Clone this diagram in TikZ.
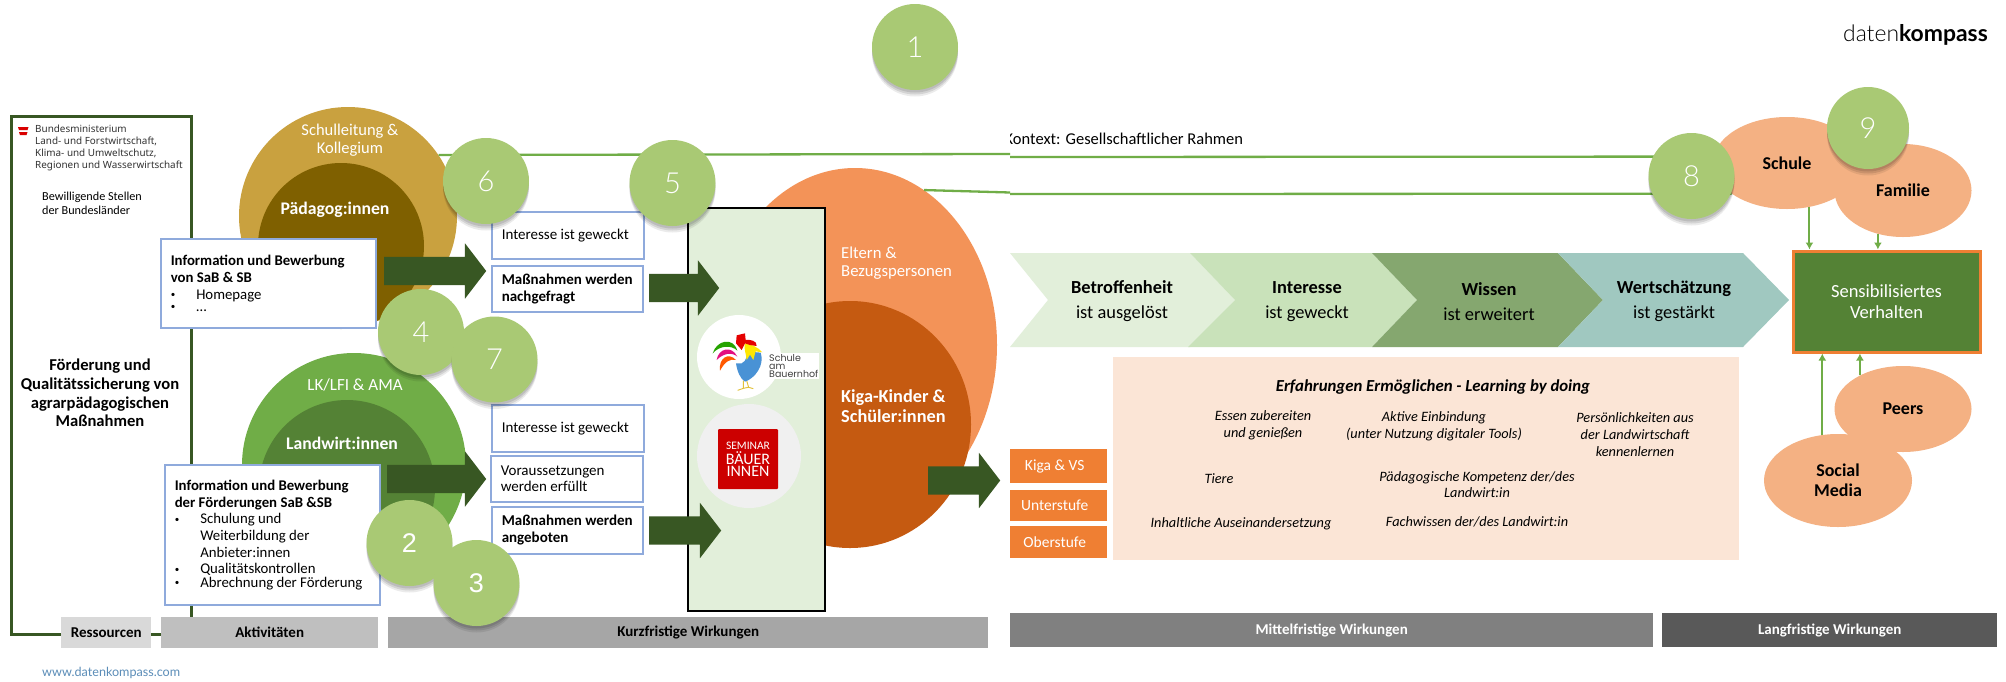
\documentclass[tikz,border=0pt]{standalone}
\usepackage{fontspec}
\setmainfont{Carlito}
\newfontfamily\logofont{Lato}
\newfontfamily\lightfont{Lato Light}
\newfontfamily\smallsans{Noto Sans}
\newfontfamily\popfont{Poppins}
\newfontfamily\arialfont{Liberation Sans}
\usetikzlibrary{shapes.geometric,shapes.arrows,shadows,arrows.meta}
\newcommand\fs[2]{\fontsize{#1}{#2}\selectfont}
\newcommand\bul[1]{\makebox[25.5pt][l]{\raisebox{1.5pt}{\fontsize{9}{9}\selectfont\textbullet}}#1}
\newcommand\cont[1]{\hspace*{25.5pt}#1}
\definecolor{frameG}{HTML}{385723}
\definecolor{goldL}{HTML}{C9A13F}
\definecolor{goldD}{HTML}{7F6000}
\definecolor{greenL}{HTML}{70AD47}
\definecolor{greenD}{HTML}{548235}
\definecolor{blueB}{HTML}{8FAADC}
\definecolor{numG}{HTML}{A9C974}
\definecolor{boxG}{HTML}{E2EFDA}
\definecolor{orL}{HTML}{F39358}
\definecolor{orD}{HTML}{C55A11}
\definecolor{orB}{HTML}{EF7F33}
\definecolor{peach}{HTML}{F4B183}
\definecolor{peachL}{HTML}{FBE5D6}
\definecolor{ch2}{HTML}{C9E2BA}
\definecolor{ch3}{HTML}{85A76F}
\definecolor{ch4}{HTML}{A0C8C0}
\definecolor{urlB}{HTML}{5B8DB8}
\tikzset{
  txt/.style={inner sep=0pt,align=center},
  bigarrow/.style={single arrow,fill=frameG,draw=none,anchor=west,inner xsep=0pt,inner ysep=14pt,
    single arrow head extend=13.5pt,single arrow tip angle=105},
  bluebox/.style={draw=blueB,line width=1.5pt,fill=white,inner ysep=0pt,align=flush left,anchor=north west},
  softshadow/.style={drop shadow={shadow xshift=0pt,shadow yshift=-2.5pt,fill=black,opacity=.10},
    drop shadow={shadow xshift=0pt,shadow yshift=-4.5pt,fill=black,opacity=.10},
    drop shadow={shadow xshift=0pt,shadow yshift=-6.5pt,fill=black,opacity=.08}},
  numc/.style={circle,fill=numG,inner sep=0pt,minimum size=86pt,text=white,
    font=\lightfont\fs{29}{30},softshadow},
  barbox/.style={inner sep=0pt,anchor=north west,font=\fs{15}{16}\bfseries},
  orbox/.style={fill=orB,inner sep=0pt,text=white,anchor=north west,minimum width=97pt,font=\fs{15.5}{16}},
  peachell/.style={ellipse,fill=peach,inner sep=0pt,align=center,font=\fs{18}{20}\bfseries},
  ctxline/.style={draw=greenL,line width=2.3pt},
  feed/.style={draw=greenL,line width=2pt,-{Latex[length=7pt,width=8pt]}},
  ital/.style={txt,font=\fs{14.3}{16.7}\itshape},
  chevtxt/.style={txt,font=\fs{18.4}{25}}
}
\begin{document}
\begin{tikzpicture}[x=1pt,y=-1pt]
\useasboundingbox (0,0) rectangle (2006,681);
\fill[white] (0,0) rectangle (2006,681);
% resources frame
\draw[frameG,line width=3pt] (11,116) rectangle (191,634);
\fill[red!85!black] (18,127) -- (28.5,127) -- (27.5,130) -- (19,130) -- cycle;
\fill[red!85!black] (19,132) -- (27.5,132) -- (26.5,135) -- (20,135) -- cycle;
\node[txt,anchor=north west,align=left,text=black!80,font=\smallsans\fs{9.9}{12}] (bm) at (35,125) {Bundesministerium\\Land- und Forstwirtschaft,\\Klima- und Umweltschutz,\\Regionen und Wasserwirtschaft};
\node[txt,anchor=west,align=left,font=\fs{12.2}{13.5}] (bew) at (42,203.5) {Bewilligende Stellen\\der Bundesländer};
\node[txt,font=\fs{16.6}{18.8}\bfseries] (foerd) at (100,393) {Förderung und\\Qualitätssicherung von\\agrarpädagogischen\\Maßnahmen};
% circles
\node[circle,fill=goldL,minimum size=218pt,inner sep=0pt] (sl) at (348,216) {};
\node[circle,fill=goldD,minimum size=166pt,inner sep=0pt] (pd) at (341,246) {};
\node[txt,text=white,font=\fs{16.5}{18}] (slt) at (350,140) {Schulleitung \&\\Kollegium};
\node[txt,text=white,font=\fs{17.7}{18}\bfseries] (pdt) at (335,210) {Pädagog:innen};
\node[circle,fill=greenL,minimum size=224pt,inner sep=0pt] (lk) at (354,465) {};
\node[circle,fill=greenD,minimum size=176pt,inner sep=0pt] (lw) at (347,488) {};
\node[txt,text=white,font=\fs{17}{18}] (lkt) at (355,385) {LK/LFI \& AMA};
\node[txt,text=white,font=\fs{17.7}{18}\bfseries] (lwt) at (342,443) {Landwirt:innen};
% parents ellipse and lines
\node[ellipse,fill=orL,minimum width=284pt,minimum height=354pt,inner sep=0pt] (el) at (855,345) {};
\node[ellipse,fill=orD,minimum width=242pt,minimum height=247pt,inner sep=0pt] (ki) at (850,424.5) {};
\node[txt,anchor=west,align=left,text=white,font=\fs{16.7}{18}] (elt) at (841,263) {Eltern \&\\Bezugspersonen};
\node[txt,anchor=west,align=left,text=white,font=\fs{18.3}{20}\bfseries] (kit) at (841,406) {Kiga-Kinder \&\\Schüler:innen};
% context ellipses
\node[peachell,minimum width=148pt,minimum height=92pt] (schule) at (1787,163) {Schule};
\node[peachell,minimum width=137pt,minimum height=93pt] (fam) at (1903,190.5) {Familie};
\node[peachell,minimum width=137pt,minimum height=86pt] (peers) at (1903,409) {Peers};
\node[peachell,minimum width=148pt,minimum height=93pt] (social) at (1838,480.5) {Social\\Media};
\node[fill=greenD,draw=orB,line width=3pt,minimum width=187pt,minimum height=101pt,inner sep=0pt,align=center,text=white,font=\fs{18.5}{20.5}] (sens) at (1886.5,301.5) {Sensibilisiertes\\Verhalten};
\draw[feed] (schule.-63.4) -- (schule.-63.4 |- sens.north);
\draw[feed] (fam.-120) -- (fam.-120 |- sens.north);
\draw[feed] (social.109.4) -- (social.109.4 |- sens.south);
\draw[feed] (peers.142) -- (peers.142 |- sens.south);
\coordinate (brkA) at (1010,154);
\coordinate (brkB) at (1010,157);
\coordinate (brkC) at (1010,192.5);
\coordinate (brkD) at (1010,194);
\draw[ctxline] (sl.34.7) -- (brkA);
\draw[ctxline] (brkB) -- (schule.175.3);
\draw[ctxline] (el.66.4) -- (brkC);
\draw[ctxline] (brkD) -- (schule.209.4);
\begin{scope}
\clip (1010,120) rectangle (1270,150);
\node[txt,anchor=west,font=\fs{16.5}{17}] (ctx) at (1004.5,139) {Kontext: Gesellschaftlicher Rahmen};
\end{scope}
% info boxes
\node[bluebox,minimum width=215pt,minimum height=89pt,text width=195pt,inner xsep=10pt] (inf1) at (160,238) {\fs{14.8}{16.8}\textbf{Information und Bewerbung}\\\textbf{von SaB \& SB}\\\bul{Homepage}\\\bul{…}};
\node[bluebox,minimum width=215pt,minimum height=140pt,text width=195pt,inner xsep=10pt] (inf2) at (164,464) {\fs{14.8}{16.7}\textbf{Information und Bewerbung}\\\textbf{der Förderungen SaB \&SB}\\\bul{Schulung und}\\\cont{Weiterbildung der}\\\cont{Anbieter:innen}\\\bul{Qualitätskontrollen}\\\bul{Abrechnung der Förderung}};
\node[bigarrow,minimum height=102pt] (ar1) at (384,271) {};
\node[bigarrow,minimum height=99pt] (ar2) at (387,479) {};
% outcome boxes
\newcommand\obox[5]{\node[bluebox,minimum width=#3,minimum height=#4,text width=#3-20pt,inner xsep=10pt,font=\fs{15}{16.8}] (#1) at (#2) {#5};}
\obox{oa}{491,211}{152pt}{47pt}{Interesse ist geweckt}
\obox{ob}{491,265}{151pt}{46pt}{\textbf{Maßnahmen werden}\\\textbf{nachgefragt}}
\obox{oc}{491,404}{152pt}{47pt}{Interesse ist geweckt}
\obox{od}{490,455}{152pt}{46pt}{Voraussetzungen\\werden erfüllt}
\obox{oe}{491,506}{151pt}{47pt}{\textbf{Maßnahmen werden}\\\textbf{angeboten}}
% offer box
\node[draw=black,fill=boxG,line width=2.3pt,minimum width=137pt,minimum height=403pt,anchor=north west,inner sep=0pt] (offer) at (687,207) {};
\node[bigarrow,minimum height=70pt] (ar3) at (649,288) {};
\node[bigarrow,minimum height=72pt] (ar4) at (649,530.5) {};
\node[bigarrow,minimum height=72pt] (ar5) at (928,480.5) {};
% rooster logo
\node[circle,fill=white,minimum size=84pt,inner sep=0pt] (rooster) at (739,357) {};
\begin{scope}[shift={(700,310)},x=.3333pt,y=-.3333pt]
\fill[green!55!black!80!lime] (38,130) .. controls (50,90) and (100,80) .. (112,122) .. controls (95,105) and (60,105) .. cycle;
\fill[magenta!80!purple] (50,150) .. controls (55,115) and (95,105) .. (112,140) .. controls (95,125) and (70,130) .. cycle;
\fill[orange!70!red] (60,182) .. controls (55,145) and (85,125) .. (108,150) .. controls (90,145) and (75,155) .. cycle;
\draw[yellow!50!brown,line width=.9pt] (130,212) -- (130,235) -- (113,241) (140,212) -- (146,232) -- (160,236) (130,235) -- (145,232);
\fill[cyan!60!blue!75] (108,160) -- (125,160) .. controls (140,155) and (140,130) .. (150,125) -- (182,128) .. controls (195,165) and (165,205) .. (135,215) .. controls (120,205) and (112,185) .. cycle;
\fill[yellow!90!orange] (134,100) .. controls (150,100) and (175,112) .. (187,127) -- (167,124) -- (160,150) -- (150,134) -- (140,150) .. controls (138,130) and (132,120) .. cycle;
\fill[red!90!black] (108,100) -- (110,76) -- (135,70) -- (137,90) .. controls (150,88) and (172,92) .. (170,108) -- (150,105) -- (135,100) -- (125,120) -- cycle;
\end{scope}
\node[txt,anchor=west,align=left,fill=white,inner sep=1pt,text=black!75,font=\popfont\fs{9.5}{8.4}] (roostert) at (768,366) {Schule\\am\\Bauernhof};
% seminar logo
\node[circle,fill=black!6,minimum size=104pt,inner sep=0pt] (sem) at (749,456) {};
\node[fill=red!80!black,rounded corners=1pt,minimum size=60pt,inner sep=0pt,text=white,align=center] (semr) at (748,459) {\fs{11.5}{13}SEMINAR\\[1pt]\fs{16}{13.5}BÄUER\\\fs{16}{13.5}INNEN};
% chevrons
\fill[boxG] (1010,253) -- (1190,253) -- (1235,300) -- (1190,347) -- (1010,347) -- (1048,300) -- cycle;
\fill[ch2] (1190,253) -- (1372,253) -- (1417,300) -- (1372,347) -- (1188,347) -- (1235,300) -- cycle;
\fill[ch3] (1372,253) -- (1558,253) -- (1603,300) -- (1558,347) -- (1372,347) -- (1417,300) -- cycle;
\fill[ch4] (1558,253) -- (1743,253) -- (1789,300) -- (1743,347) -- (1558,347) -- (1603,300) -- cycle;
\node[chevtxt] (cha) at (1122,301.5) {\textbf{Betroffenheit}\\ist ausgelöst};
\node[chevtxt] (chb) at (1307,301.5) {\textbf{Interesse}\\ist geweckt};
\node[chevtxt] (chc) at (1489,301.5) {\textbf{Wissen}\\ist erweitert};
\node[chevtxt] (chd) at (1674,301.5) {\textbf{Wertschätzung}\\ist gestärkt};
% learning panel
\fill[peachL] (1113,357) rectangle (1739,560);
\node[txt,font=\fs{16.8}{18}\bfseries\itshape] (lt) at (1433,387) {Erfahrungen Ermöglichen - Learning by doing};
\node[ital] (la) at (1263,425.5) {Essen zubereiten\\und genießen};
\node[ital] (lb) at (1434,426.5) {Aktive Einbindung\\(unter Nutzung digitaler Tools)};
\node[ital] (lc) at (1635,434.5) {Persönlichkeiten aus\\der Landwirtschaft\\kennenlernen};
\node[ital] (ld) at (1219,479) {Tiere};
\node[ital] (le) at (1477,484.5) {Pädagogische Kompetenz der/des\\Landwirt:in};
\node[ital] (lf) at (1241,524) {Inhaltliche Auseinandersetzung};
\node[ital] (lg) at (1477,522) {Fachwissen der/des Landwirt:in};
% school levels
\node[orbox,minimum height=34pt] (ka) at (1010,449) {Kiga \& VS\hspace*{8pt}};
\node[orbox,minimum height=31pt] (kb) at (1010,490) {Unterstufe\hspace*{8pt}};
\node[orbox,minimum height=32pt] (kc) at (1010,526) {Oberstufe\hspace*{8pt}};
% bars
\node[barbox,fill=black!15,minimum width=90pt,minimum height=31pt] (ba) at (61,617) {Ressourcen};
\node[barbox,fill=black!25,minimum width=217pt,minimum height=31pt] (bb) at (161,617) {Aktivitäten};
\node[barbox,fill=black!35,minimum width=600pt,minimum height=31pt] (bc) at (388,617) {Kurzfristige Wirkungen};
\node[barbox,fill=black!50,text=white,minimum width=643pt,minimum height=34pt] (bd) at (1010,613) {Mittelfristige Wirkungen};
\node[barbox,fill=black!65,text=white,minimum width=335pt,minimum height=34pt] (be) at (1662,613) {Langfristige Wirkungen};
% texts
\node[txt,anchor=west,text=urlB,font=\logofont\fs{12.6}{14}] (url) at (42,673) {www.datenkompass.com};
\node[txt,anchor=east,font=\fs{22.9}{25}] (logo) at (1988,35) {{\lightfont daten}{\logofont\bfseries kompass}};
% numbers
\node[numc] (n1) at (915,47) {1};
\node[numc,font=\arialfont\fs{27}{27}] (n2) at (409.5,543) {2};
\node[numc,font=\arialfont\fs{27}{27}] (n3) at (476.5,583) {3};
\node[numc] (n4) at (421,332) {4};
\node[numc] (n5) at (672.5,183) {5};
\node[numc] (n6) at (486,181) {6};
\node[numc] (n7) at (494.5,359.5) {7};
\node[numc] (n8) at (1691.5,176) {8};
\node[numc,minimum size=82pt] (n9) at (1868,128) {9};
\end{tikzpicture}
\end{document}
